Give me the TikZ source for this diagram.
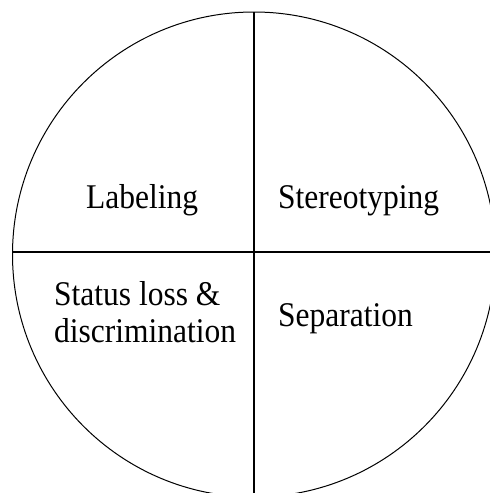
\documentclass[tikz,border=0pt]{standalone}
\usepackage{fontspec}
\setmainfont{Liberation Serif}
\begin{document}
\begin{tikzpicture}[x=1pt,y=-1pt,
  lbl/.style={anchor=base west,inner sep=0pt,yscale=1.1,transform shape,font=\fontsize{31.5}{33.6}\selectfont},
  divider/.style={draw=black,line width=1.6pt},
  rim/.style={draw=black,line width=1pt}]
\useasboundingbox (0,0) rectangle (490,493);
\begin{scope}
\clip (0,0) rectangle (490,493);
\draw[rim] (254,254.5) ellipse [x radius=241.5, y radius=242.5];
\coordinate (top) at (254,12);
\coordinate (bot) at (254,493);
\coordinate (lft) at (13,252);
\coordinate (rgt) at (490,252);
\draw[divider] (top) -- (bot);
\draw[divider] (lft) -- (rgt);
\end{scope}
\node[lbl] (lab) at (86,208) {Labeling};
\node[lbl] (ste) at (278,208) {Stereotyping};
\node[lbl,align=left] (sta) at (54,342) {Status loss \&\\discrimination};
\node[lbl] (sep) at (278,326) {Separation};
\end{tikzpicture}
\end{document}
